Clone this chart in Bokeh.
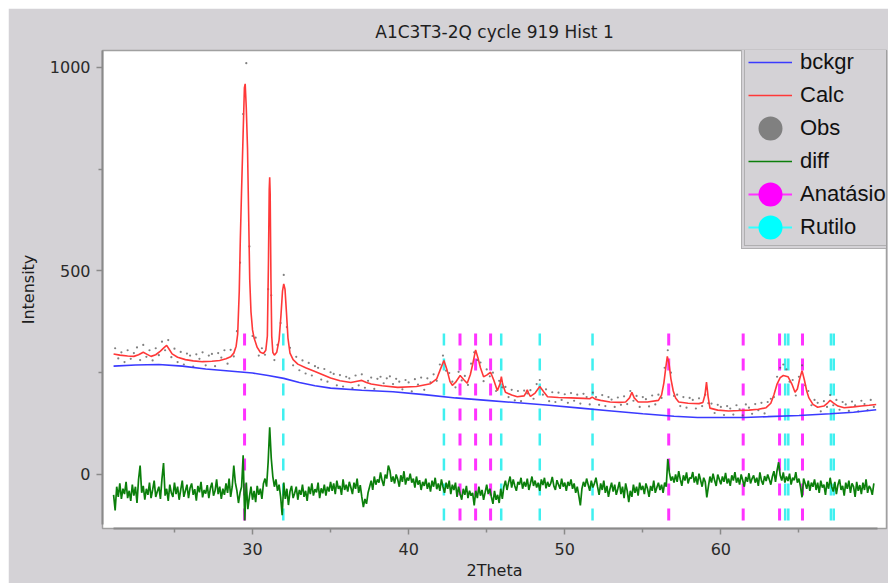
import numpy as np
from bokeh.plotting import figure
from bokeh.models import Range1d, FixedTicker, Legend, LegendItem
from bokeh.embed import file_html
from bokeh.resources import INLINE

# ---------------- data ----------------
bckgr_x = [21.1, 22.5, 24.0, 25.5, 27.0, 28.5, 30.0, 31.0, 32.0, 33.0, 34.0, 35.0, 37.0, 39.0,
           41.0, 43.0, 45.0, 47.0, 49.0, 51.0, 53.0, 55.0, 57.0, 58.5, 60.0, 61.5, 63.0, 65.0,
           67.0, 68.5, 69.95]
bckgr_y = [266, 269, 270, 266, 259, 254, 249, 243, 236, 226, 218, 212, 207, 203,
           196, 188, 182, 176, 170, 163, 156, 149, 143, 140, 140, 140, 142, 145,
           149, 153, 159]

calc_x = [21.1, 21.5, 22.0, 22.4, 22.7, 23.0, 23.25, 23.5, 23.8, 24.1, 24.35, 24.5, 24.65, 24.85,
          25.2, 25.7, 26.2, 26.8, 27.4, 27.9, 28.3, 28.6, 28.8, 28.95, 29.05, 29.15, 29.22, 29.3,
          29.4, 29.48, 29.53, 29.6, 29.68, 29.75, 29.82, 29.9, 30.0, 30.1, 30.3, 30.5, 30.7, 30.85,
          30.95, 31.02, 31.07, 31.1, 31.13, 31.18, 31.23, 31.3, 31.4, 31.55, 31.7, 31.82, 31.92, 32.0,
          32.08, 32.17, 32.27, 32.4, 32.6, 32.9, 33.4, 34.0, 34.5, 35.0, 35.6, 36.3, 36.7, 37.0,
          37.3, 37.6, 38.3, 39.3, 40.5, 41.4, 41.8, 42.05, 42.26, 42.45, 42.65, 42.8, 43.0, 43.3,
          43.55, 43.75, 43.95, 44.1, 44.29, 44.45, 44.6, 44.8, 45.0, 45.25, 45.45, 45.68, 45.85, 45.94,
          46.02, 46.2, 46.6, 46.96, 47.4, 47.52, 47.6, 47.68, 47.8, 48.1, 48.4, 48.65, 48.9, 49.6,
          50.4, 51.2, 51.6, 51.76, 51.95, 52.3, 52.9, 53.5, 53.9, 54.15, 54.3, 54.45, 54.7, 55.3,
          56.0, 56.2, 56.35, 56.48, 56.57, 56.68, 56.8, 56.95, 57.1, 57.3, 57.9, 58.6, 58.85, 58.98,
          59.08, 59.18, 59.3, 59.8, 60.5, 61.2, 61.8, 62.4, 62.9, 63.2, 63.4, 63.6, 63.8, 64.0,
          64.3, 64.55, 64.75, 64.9, 65.05, 65.2, 65.35, 65.5, 65.64, 65.9, 66.2, 66.6, 66.85, 67.0,
          67.2, 67.5, 67.9, 68.5, 69.0, 69.5, 69.95]
calc_y = [296, 293, 291, 290, 294, 300, 295, 290, 294, 303, 312, 317, 308, 296,
          288, 282, 279, 277, 278, 280, 284, 289, 298, 315, 345, 450, 580, 700,
          840, 950, 959, 900, 800, 640, 480, 400, 355, 335, 312, 300, 297, 305,
          340, 520, 700, 730, 690, 480, 340, 300, 293, 300, 330, 390, 450, 468,
          455, 400, 335, 298, 282, 271, 262, 253, 245, 237, 230, 226, 229, 231,
          226, 222, 218, 214, 216, 223, 235, 260, 280, 258, 228, 219, 226, 243,
          232, 224, 245, 270, 306, 285, 262, 240, 244, 251, 232, 206, 222, 240,
          222, 202, 195, 191, 193, 201, 208, 200, 192, 200, 216, 203, 191, 189,
          188, 187, 186, 190, 185, 182, 178, 177, 178, 188, 202, 188, 178, 178,
          182, 195, 225, 265, 290, 272, 235, 205, 188, 178, 175, 174, 177, 195,
          227, 192, 163, 158, 156, 157, 158, 160, 164, 175, 196, 222, 238, 243,
          240, 222, 202, 210, 235, 255, 232, 205, 188, 172, 165, 168, 176, 182,
          176, 168, 164, 166, 168, 170, 172]

# observed intensities, scan from 21.2 deg in 0.2 deg steps
obs_start, obs_step = 21.2, 0.2
obs_y = [310, 285, 300, 276, 305,  284, 298, 312, 281, 318,  289, 305, 280, 310, 293,
         326, 305, 330, 288, 309,  276, 301, 270, 297, 292,  265, 295, 284, 300, 268,
         292, 296, 266, 298, 287,  305, 272, 306, 290, 352,  520, 885, 1010, 560, 340,
         336, 292, 310, 294, 455,  440, 281, 318, 372, 490,  362, 311, 268, 289, 256,
         280, 248, 274, 243, 266,  262, 233, 259, 228, 251,  247, 219, 244, 216, 240,
         236, 212, 243, 219, 246,  213, 230, 238, 210, 235,  240, 224, 236, 241, 222,
         235, 228, 209, 232, 226,  204, 234, 221, 238, 208,  236, 226, 246, 230, 270,
         292, 255, 249, 228, 214,  252, 231, 242, 220, 272,  300, 281, 275, 229, 258,
         241, 250, 205, 230, 214,  215, 190, 208, 182, 205,  180, 206, 199, 207, 186,
         222, 232, 196, 209, 180,  202, 178, 201, 183, 197,  176, 200, 181, 196, 174,
         198, 190, 172, 201, 190,  171, 195, 168, 190, 184,  166, 189, 171, 192, 173,
         205, 181, 193, 166, 190,  185, 167, 194, 172, 196,  188, 262, 305, 250, 193,
         196, 168, 190, 164, 188,  183, 162, 187, 168, 196,  175, 174, 151, 171, 166,
         146, 168, 162, 147, 170,  160, 145, 172, 164, 149,  173, 158, 176, 150, 178,
         186, 190, 240, 262, 270,  258, 228, 232, 194, 240,  268, 219, 205, 170, 183,
         176, 155, 180, 166, 195,  170, 183, 159, 178, 172,  156, 179, 170, 155, 181,
         173, 158, 183, 166]

# difference curve (plotted with offset), scan from 21.1 deg in 0.1 deg steps
diff_start, diff_step = 21.1, 0.1
diff_y = [-50, -88, -30, -55, -22, -60, -35, -48, -18, -58,
          -40, -65, -25, -52, -30, -70, -12, 22, -45, -28,
          -62, -35, -50, -20, -58, -38, -15, -55, -42, -30,
          -60, -10, 28, -52, -35, -65, -25, -45, -55, -20,
          -48, -30, -62, -38, -15, -55, -40, -25, -58, -33,
          -22, -50, -36, -64, -28, -44, -18, -56, -38, -47,
          -26, -58, -34, -20, -52, -40, -12, -48, -30, -60,
          -35, -50, -22, -45, -10, -55, -30, 22, -20, -40,
          -70, -45, -30, 47, -113, -20, -85, -55, -30, -62,
          -40, -68, -28, -50, -35, -60, -22, -10, -30, 30,
          116, 40, -5, -30, -12, -40, -25, -55, -100, -20,
          -60, -35, -75, -42, -28, -58, -46, -30, -62, -38,
          -50, -25, -55, -40, -65, -30, -48, -22, -52, -36,
          -44, -20, -58, -34, -46, -25, -52, -30, -42, -18,
          -40, -22, -48, -15, -35, -28, -50, -12, -38, -25,
          -42, -18, -32, -48, -20, -35, -10, -45, -26, -55,
          -80, -60, -72, -45, -30, -15, -38, -5, -25, -12,
          -20, 5, -15, -28, 0, -10, 22, 10, -18, -5,
          -22, 0, -12, -30, -2, -18, 8, -25, -8, -15,
          2, -20, -10, -32, -5, -25, -14, -38, -18, -28,
          -10, -35, -20, -42, -15, -30, -8, -36, -22, -40,
          -12, -30, -45, -20, -35, -15, -48, -25, -38, -20,
          -55, -30, -48, -62, -35, -50, -28, -58, -40, -52,
          -45, -76, -40, -58, -30, -52, -38, -62, -44, -25,
          -48, -35, -55, -72, -40, -62, -50, -70, -35, -60,
          -30, -15, -38, -20, -5, -32, -12, -28, -40, -18,
          -25, -8, -35, -18, -30, -10, -38, -22, -5, -28,
          -15, -32, -20, -40, -12, -26, -8, -34, -18, -30,
          -22, -6, -28, -38, -14, -25, -35, -10, -30, -20,
          -40, -18, -28, -12, -35, -22, -45, -30, -52, -76,
          -35, -18, -30, -10, -25, -40, -15, -32, -22, -8,
          -30, -50, -22, -38, -15, -45, -28, -55, -35, -20,
          -42, -25, -50, -35, -18, -48, -30, -58, -22, -40,
          -68, -40, -55, -25, -45, -30, -52, -20, -38, -28,
          -48, -22, -35, -55, -28, -40, -15, -45, -32, -20,
          -38, -25, -45, -20, -30, 38, 5, -15, -5, -20,
          0, -18, 8, -12, -28, -2, -15, 5, -22, -8,
          -10, 6, -20, -5, -25, 2, -14, -30, -8, -18,
          -56, -30, -5, -20, 2, -15, -28, 0, -12, -24,
          -5, -18, 4, -22, -10, -28, -2, -15, 6, -20,
          -8, -25, 0, -14, -30, -6, -18, 3, -22, -10,
          -2, -20, -8, -28, 5, -15, -25, -4, -16, 0,
          -12, -25, -5, 8, -18, 10, 30, -2, -15, 5,
          -20, -5, -16, 2, -25, -8, -14, 6, -20, -10,
          -30, -56, -10, -22, -35, -15, -40, -20, -30, -12,
          -38, -20, -45, -15, -32, -25, -50, -18, -35, -8,
          -30, -42, -18, -48, -25, -12, -38, -28, -52, -20,
          -35, -15, -45, -22, -30, -55, -18, -40, -26, -48,
          -20, -38, -12, -45, -28, -35, -50, -22]

# reflection positions (2Theta)
anatasio_pos = [29.49, 43.29, 44.29, 45.25, 56.66, 61.43, 63.76, 65.23]
rutilo_pos = [31.97, 42.26, 45.93, 48.40, 51.78, 64.12, 64.32, 67.05, 67.23]

x_major = [30, 40, 50, 60]
x_minor = [25, 35, 45, 55, 65]
y_major = [0, 500, 1000]
y_minor = [250, 750]

title_text = "A1C3T3-2Q cycle 919 Hist 1"
x_label = "2Theta"
y_label = "Intensity"

# ---------------- layout / style ----------------
W, H = 880, 575
ML, MR, MT, MB = 94, 2, 42, 55
GREY = "#d4d2d6"
TICK_TOP, TICK_BOTTOM = 346, -124

obs_x = np.round(obs_start + obs_step * np.arange(len(obs_y)), 3)
diff_x = np.round(diff_start + diff_step * np.arange(len(diff_y)), 3)

p = figure(width=W, height=H, output_backend="svg", toolbar_location=None,
           x_range=Range1d(20.39, 70.61), y_range=Range1d(-132.6, 1041),
           min_border_left=ML, min_border_right=MR, min_border_top=MT, min_border_bottom=MB,
           title=title_text)
p.styles = {"margin-left": "8px", "margin-top": "8px"}
p.border_fill_color = GREY
p.background_fill_color = "white"
p.outline_line_color = "#a0a0a0"
p.outline_line_width = 1.5
p.xgrid.visible = False
p.ygrid.visible = False

p.title.text_font = "DejaVu Sans"
p.title.text_font_size = "17px"
p.title.text_font_style = "normal"
p.title.text_color = "#1e1e1e"
p.title.align = "center"
p.title.standoff = 17

for ax in (p.xaxis[0], p.yaxis[0]):
    ax.axis_line_color = "#8a8a8a"
    ax.axis_line_width = 2
    ax.major_tick_line_color = "#8a8a8a"
    ax.minor_tick_line_color = "#8a8a8a"
    ax.major_tick_line_width = 1.5
    ax.minor_tick_line_width = 1.5
    ax.major_tick_out = 6
    ax.major_tick_in = 0
    ax.minor_tick_out = 4
    ax.minor_tick_in = 0
    ax.major_label_text_font = "DejaVu Sans"
    ax.major_label_text_font_size = "16px"
    ax.major_label_text_color = "#2a2a2a"
    ax.axis_label_text_font = "DejaVu Sans"
    ax.axis_label_text_font_size = "16px"
    ax.axis_label_text_font_style = "normal"
    ax.axis_label_text_color = "#1e1e1e"

p.xaxis[0].ticker = FixedTicker(ticks=x_major, minor_ticks=x_minor)
p.yaxis[0].ticker = FixedTicker(ticks=y_major, minor_ticks=y_minor)
p.xaxis[0].bounds = (21.1, 70.05)
p.yaxis[0].bounds = (-123, 1041)
p.xaxis[0].axis_label = x_label
p.yaxis[0].axis_label = y_label
p.xaxis[0].major_label_standoff = 8
p.xaxis[0].axis_label_standoff = 3
p.yaxis[0].major_label_standoff = 6
p.yaxis[0].axis_label_standoff = 9

# reflection markers
p.segment(x0=anatasio_pos, y0=[TICK_TOP] * len(anatasio_pos), x1=anatasio_pos,
          y1=[TICK_BOTTOM] * len(anatasio_pos), line_color="#ff33ff", line_width=3,
          line_dash="12 13")
p.segment(x0=rutilo_pos, y0=[TICK_TOP] * len(rutilo_pos), x1=rutilo_pos,
          y1=[TICK_BOTTOM] * len(rutilo_pos), line_color="#3ff0f0", line_width=2.5,
          line_dash="12 13")

# curves
p.scatter(obs_x, obs_y, marker="circle", size=2.2, fill_color="#555555",
          line_color=None, fill_alpha=0.75)
r_bck = p.line(bckgr_x, bckgr_y, line_color="#3a3aff", line_width=1.6)
r_calc = p.line(calc_x, calc_y, line_color="#ff3838", line_width=1.6)
r_diff = p.line(diff_x, diff_y, line_color="#0b7f0b", line_width=1.7)

# legend-only swatches (hidden renderers sharing the real data)
s_obs = p.scatter(obs_x, obs_y, marker="circle", size=10, fill_color="#808080",
                  line_color="#808080", line_width=12, visible=False)
n_a, n_r = len(anatasio_pos), len(rutilo_pos)
l_ana = p.line(anatasio_pos, [TICK_TOP] * n_a, line_color="#ff33ff", line_width=2, visible=False)
s_ana = p.scatter(anatasio_pos, [TICK_TOP] * n_a, marker="circle", size=10, fill_color="#ff00ff",
                  line_color="#ff00ff", line_width=12, visible=False)
l_rut = p.line(rutilo_pos, [TICK_TOP] * n_r, line_color="#33ffff", line_width=2, visible=False)
s_rut = p.scatter(rutilo_pos, [TICK_TOP] * n_r, marker="circle", size=10, fill_color="#00ffff",
                  line_color="#00ffff", line_width=12, visible=False)
ghost = p.line(bckgr_x, bckgr_y, line_alpha=0, visible=False)

frame_bottom = H - MB

# outer double border of the window panel (empty legend boxes used as frames)
for off, col, lw in ((2, "#9c9c9c", 2), (6, "#8a8a8a", 1.5)):
    bw, bh, pad = W + 30 - off, H + 30 - off, 10
    frame_box = Legend(items=[LegendItem(label=" ", renderers=[ghost])],
                       location=(off - ML, frame_bottom - (off + bh)))
    frame_box.glyph_height = bh - 2 * pad
    frame_box.glyph_width = bw - 2 * pad
    frame_box.padding = pad
    frame_box.margin = 0
    frame_box.spacing = 0
    frame_box.label_standoff = 0
    frame_box.label_width = 0
    frame_box.label_height = 0
    frame_box.label_text_font_size = "1px"
    frame_box.label_text_alpha = 0
    frame_box.background_fill_alpha = 0
    frame_box.inactive_fill_alpha = 0
    frame_box.border_line_color = col
    frame_box.border_line_width = lw
    p.add_layout(frame_box)

LEG_LEFT, LEG_BOTTOM = 736, 238      # canvas px of legend's inner box (from top-left)
LEG_GLYPH_H, LEG_SP, LEG_PAD = 30, 3, 3

def make_items():
    return [
        LegendItem(label="bckgr", renderers=[r_bck]),
        LegendItem(label="Calc", renderers=[r_calc]),
        LegendItem(label="Obs", renderers=[s_obs]),
        LegendItem(label="diff", renderers=[r_diff]),
        LegendItem(label="Anatásio", renderers=[l_ana, s_ana]),
        LegendItem(label="Rutilo", renderers=[l_rut, s_rut]),
    ]

def style_legend(lg, pad, text_alpha):
    lg.label_text_font = "Liberation Sans"
    lg.label_text_font_size = "22px"
    lg.label_text_color = "#111111"
    lg.label_text_alpha = text_alpha
    lg.glyph_width = 44
    lg.glyph_height = LEG_GLYPH_H
    lg.label_height = LEG_GLYPH_H
    lg.label_width = 100
    lg.spacing = LEG_SP
    lg.padding = pad
    lg.margin = 0
    lg.label_standoff = 8
    lg.background_fill_color = GREY
    lg.background_fill_alpha = 1
    lg.border_line_color = "#8c8c8c"
    lg.border_line_width = 1
    lg.inactive_fill_alpha = 0

outer = Legend(items=make_items(),
               location=(LEG_LEFT - ML - 3, frame_bottom - LEG_BOTTOM - 3))
style_legend(outer, LEG_PAD + 3, 0)
p.add_layout(outer)

legend = Legend(items=make_items(), location=(LEG_LEFT - ML, frame_bottom - LEG_BOTTOM))
style_legend(legend, LEG_PAD, 1)
p.add_layout(legend)

open("out.html", "w", encoding="utf-8").write(file_html(p, INLINE))
